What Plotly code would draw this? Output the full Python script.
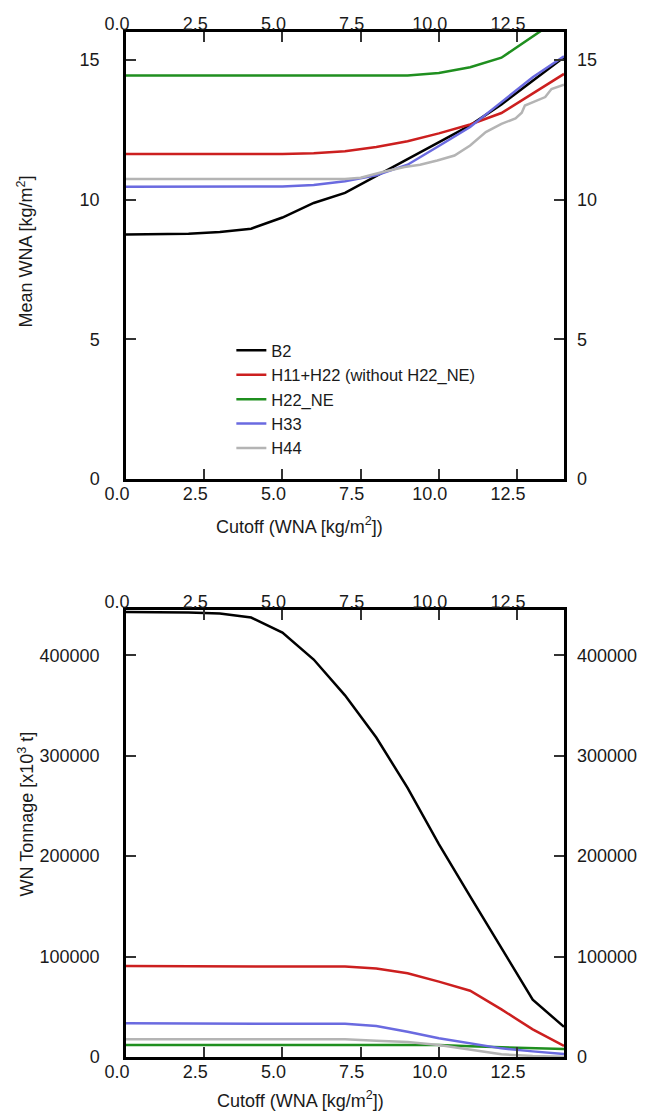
import plotly.graph_objects as go

# ---------------- data ----------------
cutoff = [0, 1, 2, 3, 4, 5, 6, 7, 8, 9, 10, 11, 12, 13, 14]

mean_B2 = [8.75, 8.76, 8.78, 8.84, 8.96, 9.36, 9.88, 10.24, 10.84, 11.45, 12.06, 12.66, 13.41, 14.25, 15.10]
mean_H11 = [11.63, 11.63, 11.63, 11.63, 11.63, 11.63, 11.66, 11.73, 11.88, 12.09, 12.37, 12.69, 13.10, 13.79, 14.50]
mean_H22NE = [14.44, 14.44, 14.44, 14.44, 14.44, 14.44, 14.44, 14.44, 14.44, 14.44, 14.53, 14.74, 15.08, 15.85, 16.60]
mean_H33 = [10.46, 10.46, 10.46, 10.46, 10.46, 10.47, 10.52, 10.66, 10.87, 11.25, 11.92, 12.60, 13.49, 14.38, 15.13]
cutoff_H44 = [0, 7, 7.5, 8.2, 8.9, 9.4, 9.95, 10.5, 11.0, 11.5, 12.0, 12.45, 12.65, 12.75, 13.05, 13.4, 13.6, 14.0]
mean_H44 = [10.74, 10.74, 10.78, 10.99, 11.17, 11.25, 11.40, 11.58, 11.94, 12.42, 12.71, 12.91, 13.11, 13.37, 13.51, 13.67, 13.96, 14.11]

ton_B2 = [443000, 443000, 442500, 441500, 437500, 422600, 395700, 360000, 318000, 268000, 212000, 160000, 108500, 57000, 30000]
ton_H11 = [90500, 90500, 90500, 90500, 90500, 90500, 90400, 90000, 88200, 83300, 75000, 66000, 47400, 27500, 11000]
ton_H22NE = [11900, 11900, 11900, 11900, 11900, 11900, 11900, 11900, 11900, 11900, 11900, 10600, 9600, 8600, 7900]
ton_H33 = [33500, 33500, 33500, 33500, 33500, 33500, 33500, 33000, 30800, 25200, 18600, 13600, 8600, 5600, 3000]
ton_H44 = [17600, 17600, 17600, 17600, 17600, 17600, 17600, 17600, 16200, 14900, 11900, 7000, 2700, 1000, 300]

names = ["B2", "H11+H22 (without H22_NE)", "H22_NE", "H33", "H44"]
colors = ["#000000", "#cc1f1f", "#1f8f1f", "#6a6ae0", "#b4b4b4"]

x_ticks = [0, 2.5, 5.0, 7.5, 10.0, 12.5]
mean_ticks = [0, 5, 10, 15]
ton_ticks = [0, 100000, 200000, 300000, 400000]

FONT = "Liberation Sans, Arial, sans-serif"
FS = 18
TXT = "#1a1a1a"

fig = go.Figure()

top_series = [
    (cutoff, mean_B2), (cutoff, mean_H11), (cutoff, mean_H22NE),
    (cutoff, mean_H33), (cutoff_H44, mean_H44),
]
bot_series = [ton_B2, ton_H11, ton_H22NE, ton_H33, ton_H44]

# the last series of each panel sits on the mirrored (top/right) axes so they get drawn
for i, (xs, ys) in enumerate(top_series):
    last = i == len(top_series) - 1
    fig.add_trace(go.Scatter(x=xs, y=ys, mode="lines", name=names[i],
                             line=dict(color=colors[i], width=2.5),
                             xaxis="x3" if last else "x", yaxis="y3" if last else "y"))
for i, ys in enumerate(bot_series):
    last = i == len(bot_series) - 1
    fig.add_trace(go.Scatter(x=cutoff, y=ys, mode="lines", name=names[i],
                             line=dict(color=colors[i], width=2.5),
                             xaxis="x4" if last else "x2", yaxis="y4" if last else "y2",
                             showlegend=False))

# page geometry (pixels)
W, H = 649, 1112
L, R, T, B = 126, 74, 32, 55
pw = W - L - R
ph = H - T - B
top_dom = [(1057 - 479) / ph, 1.0]
bot_dom = [0.0, (1057 - 610) / ph]

def px(xp):
    return (xp - L) / pw

def py(yp):
    return (H - B - yp) / ph

tickfont = dict(family=FONT, size=FS, color=TXT)

def xax(**kw):
    d = dict(range=[0, 14], tickvals=x_ticks, tickformat=".1f",
             ticks="inside", ticklen=10, tickwidth=1.5, tickcolor="#333333",
             showgrid=False, zeroline=False, tickfont=tickfont,
             ticklabelshift=-9, ticklabelstandoff=-3)
    d.update(kw)
    return d

def yax(**kw):
    d = dict(ticks="inside", ticklen=10, tickwidth=1.5, tickcolor="#333333",
             showgrid=False, zeroline=False, tickfont=tickfont)
    d.update(kw)
    return d

fig.update_layout(
    width=W, height=H,
    margin=dict(l=L, r=R, t=T, b=B),
    paper_bgcolor="white", plot_bgcolor="white",
    font=dict(family=FONT, size=FS, color=TXT),
    showlegend=True,
    legend=dict(x=px(234), y=py(333), xanchor="left", yanchor="top",
                bgcolor="rgba(0,0,0,0)", font=dict(family=FONT, size=16.5, color=TXT),
                itemwidth=30, tracegroupgap=0),
    xaxis=xax(domain=[0, 1], anchor="y", showline=True, linecolor="black",
              linewidth=2.5, mirror=True),
    yaxis=yax(domain=top_dom, anchor="x", range=[0, 16], tickvals=mean_ticks,
              showline=True, linecolor="black", linewidth=2.5, mirror=True,
              ticklabelstandoff=20),
    xaxis3=xax(overlaying="x", anchor="y", side="top", showline=False),
    yaxis3=yax(overlaying="y", anchor="x", side="right", range=[0, 16],
               tickvals=mean_ticks, showline=False, ticklabelstandoff=12),
    xaxis2=xax(domain=[0, 1], anchor="y2", showline=True, linecolor="black",
               linewidth=2.5, mirror=True),
    yaxis2=yax(domain=bot_dom, anchor="x2", range=[0, 445000], tickvals=ton_ticks,
               tickformat="d", showline=True, linecolor="black", linewidth=2.5,
               mirror=True, ticklabelstandoff=20),
    xaxis4=xax(overlaying="x2", anchor="y2", side="top", showline=False),
    yaxis4=yax(overlaying="y2", anchor="x2", side="right", range=[0, 445000],
               tickvals=ton_ticks, tickformat="d", showline=False, ticklabelstandoff=12),
)

annots = [
    dict(text="Cutoff (WNA [kg/m<sup>2</sup>])", x=px(304), y=py(525)),
    dict(text="Cutoff (WNA [kg/m<sup>2</sup>])", x=px(305), y=py(1099)),
    dict(text="Mean WNA [kg/m<sup>2</sup>]", x=px(23), y=py(252), textangle=-90),
    dict(text="WN Tonnage [x10<sup>3</sup> t]", x=px(23), y=py(814), textangle=-90),
]
for a in annots:
    fig.add_annotation(xref="paper", yref="paper", showarrow=False,
                       xanchor="center", yanchor="middle",
                       font=dict(family=FONT, size=FS, color=TXT), **a)

fig.write_html("out.html", config={"displayModeBar": False},
               post_script="document.body.style.margin='0px';")
